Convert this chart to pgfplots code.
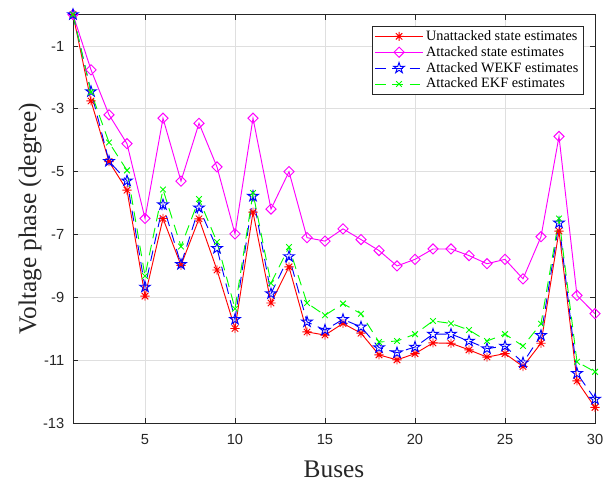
\documentclass[border=0pt]{standalone}
\usepackage{pgfplots}
\usepackage{pgfplotstable}
\usepackage{fontspec}
\pgfplotsset{compat=1.18}
\setmainfont{Liberation Serif}
\setsansfont{Liberation Sans}

\definecolor{axgray}{HTML}{262626}
\definecolor{gridgray}{HTML}{DFDFDF}
\definecolor{mmag}{RGB}{255,0,255}

% MATLAB-like markers: 8-spoke asterisk and open pentagram
\pgfdeclareplotmark{mstar}{%
  \pgfpathmoveto{\pgfqpoint{-\pgfplotmarksize}{0pt}}\pgfpathlineto{\pgfqpoint{\pgfplotmarksize}{0pt}}%
  \pgfpathmoveto{\pgfqpoint{0pt}{-\pgfplotmarksize}}\pgfpathlineto{\pgfqpoint{0pt}{\pgfplotmarksize}}%
  \pgfpathmoveto{\pgfqpoint{-.707\pgfplotmarksize}{-.707\pgfplotmarksize}}\pgfpathlineto{\pgfqpoint{.707\pgfplotmarksize}{.707\pgfplotmarksize}}%
  \pgfpathmoveto{\pgfqpoint{-.707\pgfplotmarksize}{.707\pgfplotmarksize}}\pgfpathlineto{\pgfqpoint{.707\pgfplotmarksize}{-.707\pgfplotmarksize}}%
  \pgfusepathqstroke}
\pgfdeclareplotmark{pentagram}{%
  \pgfpathmoveto{\pgfpointpolar{90}{\pgfplotmarksize}}%
  \pgfpathlineto{\pgfpointpolar{126}{.382\pgfplotmarksize}}%
  \pgfpathlineto{\pgfpointpolar{162}{\pgfplotmarksize}}%
  \pgfpathlineto{\pgfpointpolar{198}{.382\pgfplotmarksize}}%
  \pgfpathlineto{\pgfpointpolar{234}{\pgfplotmarksize}}%
  \pgfpathlineto{\pgfpointpolar{270}{.382\pgfplotmarksize}}%
  \pgfpathlineto{\pgfpointpolar{306}{\pgfplotmarksize}}%
  \pgfpathlineto{\pgfpointpolar{342}{.382\pgfplotmarksize}}%
  \pgfpathlineto{\pgfpointpolar{18}{\pgfplotmarksize}}%
  \pgfpathlineto{\pgfpointpolar{54}{.382\pgfplotmarksize}}%
  \pgfpathclose\pgfusepathqstroke}

% bus, unattacked, attacked, WEKF, EKF  (degrees)
\pgfplotstableread{
bus  una    att    wekf   ekf
1    0      0      0      0
2    -2.75  -1.76  -2.45  -2.47
3    -4.68  -3.19  -4.67  -4.07
4    -5.59  -4.11  -5.29  -4.96
5    -8.96  -6.49  -8.67  -8.32
6    -6.49  -3.30  -6.05  -5.57
7    -7.98  -5.30  -7.95  -7.38
8    -6.50  -3.46  -6.15  -5.87
9    -8.13  -4.85  -7.44  -7.24
10   -9.99  -6.98  -9.70  -9.36
11   -6.29  -3.30  -5.78  -5.68
12   -9.18  -6.19  -8.88  -8.55
13   -8.03  -5.00  -7.70  -7.40
14   -10.10 -7.10  -9.78  -9.18
15   -10.20 -7.21  -10.04 -9.57
16   -9.83  -6.82  -9.70  -9.20
17   -10.14 -7.16  -9.94  -9.52
18   -10.83 -7.51  -10.60 -10.42
19   -10.99 -8.00  -10.76 -10.39
20   -10.79 -7.79  -10.58 -10.17
21   -10.45 -7.46  -10.17 -9.75
22   -10.46 -7.46  -10.17 -9.83
23   -10.67 -7.67  -10.39 -10.04
24   -10.90 -7.93  -10.63 -10.39
25   -10.79 -7.79  -10.55 -10.17
26   -11.20 -8.41  -11.08 -10.55
27   -10.46 -7.07  -10.21 -9.84
28   -6.89  -3.88  -6.63  -6.49
29   -11.66 -8.94  -11.42 -11.05
30   -12.50 -9.52  -12.24 -11.37
}\angles

\begin{document}
\begin{tikzpicture}
\begin{axis}[
  scale only axis,
  width=391.5pt, height=306.4pt,
  xmin=1, xmax=30, ymin=-13, ymax=0,
  xtick={5,10,...,30},
  ytick={-13,-11,...,-1},
  tick align=inside,
  major tick length=4pt,
  xtick pos=both, ytick pos=both,
  axis line style={axgray, line width=0.6pt},
  tick style={axgray, line width=0.6pt},
  grid=major,
  major grid style={gridgray, line width=0.5pt},
  /pgf/number format/assume math mode=true,
  ticklabel style={font=\sffamily\fontsize{11}{12}\selectfont, text=axgray},
  xticklabel style={yshift=-5pt},
  yticklabel style={xshift=-3pt},
  xlabel={Buses},
  ylabel={Voltage phase (degree)},
  label style={font=\fontsize{19}{22}\selectfont, text=axgray},
  xlabel style={at={(axis description cs:0.5,-0.113)}, anchor=center},
  ylabel style={at={(axis description cs:-0.0824,0.5)}, anchor=center},
  legend cell align=left,
  legend style={
    at={(axis description cs:0.979,0.972)}, anchor=north east,
    font=\fontsize{10.7}{12}\selectfont,
    draw=axgray, line width=0.6pt, fill=white,
    inner xsep=2pt, inner ysep=1pt, row sep=-1pt,
  },
  legend image code/.code={%
    \draw[mark repeat=2, mark phase=2, #1]
      plot coordinates {(0pt,0pt) (18pt,0pt) (36pt,0pt)};},
  every axis plot/.append style={line width=0.7pt},
]
\addplot[red, mark=mstar, mark size=3.4pt] table[x=bus, y=una] {\angles};
\addlegendentry{Unattacked state estimates}
\addplot[mmag, mark=square, mark size=2.7pt, mark options={rotate=45}] table[x=bus, y=att] {\angles};
\addlegendentry{Attacked state estimates}
\addplot[blue, dash pattern=on 8pt off 5pt, mark=pentagram, mark size=4.2pt, mark options={solid}] table[x=bus, y=wekf] {\angles};
\addlegendentry{Attacked WEKF estimates}
\addplot[green, dash pattern=on 8pt off 5pt, mark=x, mark size=3pt, mark options={solid}] table[x=bus, y=ekf] {\angles};
\addlegendentry{Attacked EKF estimates}
\end{axis}
\pgfresetboundingbox
\useasboundingbox ([shift={(-54.75pt,-44.25pt)}]current axis.south west)
  rectangle ([shift={(13.5pt,10.9pt)}]current axis.north east);
\end{tikzpicture}
\end{document}
